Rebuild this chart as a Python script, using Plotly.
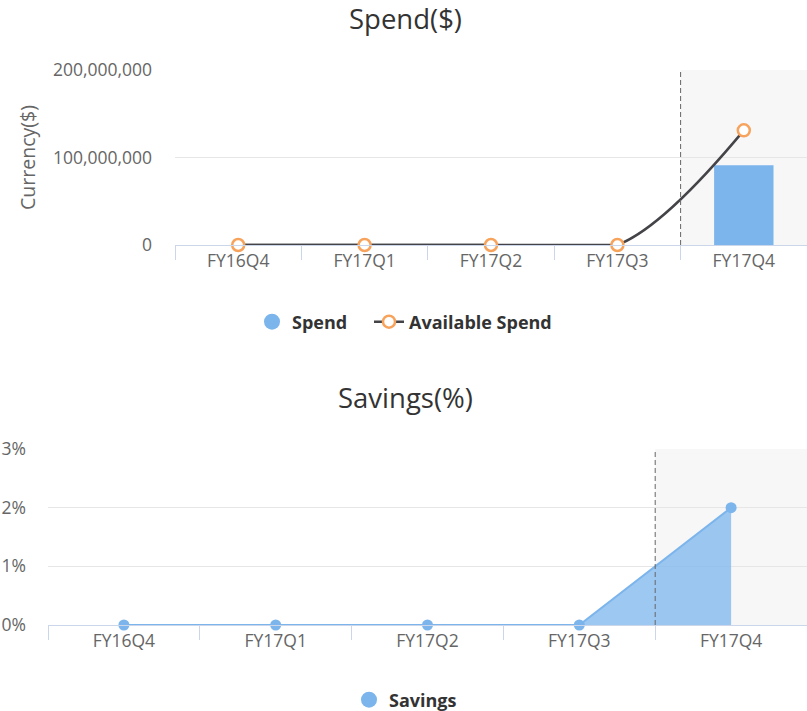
import plotly.graph_objects as go

categories = ["FY16Q4", "FY17Q1", "FY17Q2", "FY17Q3", "FY17Q4"]
spend = [None, None, None, None, 91_000_000]
available_spend = [0, 0, 0, 0, 131_000_000]
savings_pct = [0, 0, 0, 0, 2]
spend_ticks = [0, 100_000_000, 200_000_000]
savings_ticks = [0, 1, 2, 3]
savings_tick_labels = ["0%", "1%", "2%", "3%"]

W, H = 807, 711
FONT = "Open Sans, Noto Sans, sans-serif"
BLUE = "#7cb5ec"
ORANGE = "#f7a35c"
DARK = "#434348"
AXIS = "#ccd6eb"
GRID = "#e6e6e6"
LABEL = "#666666"
TICKSIZE = 17.5


def fy(px):
    return 1 - px / H


fig = go.Figure()

# --- top chart: Spend ---
fig.add_trace(go.Bar(
    x=categories, y=spend, name="Spend", marker=dict(color=BLUE, line=dict(width=0)),
    width=0.47, showlegend=False, xaxis="x", yaxis="y"))
fig.add_trace(go.Scatter(
    x=[None], y=[None], name="Spend", mode="markers",
    marker=dict(symbol="circle", size=18, color=BLUE), legend="legend",
    xaxis="x", yaxis="y"))
# flat stretch of the available-spend line (the spline undershoot there is clipped)
fig.add_trace(go.Scatter(
    x=categories[:4], y=available_spend[:4], mode="lines",
    line=dict(color=DARK, width=2.5), showlegend=False, hoverinfo="skip",
    xaxis="x", yaxis="y"))
fig.add_trace(go.Scatter(
    x=categories, y=available_spend, name="Available Spend", mode="lines+markers",
    line=dict(color=DARK, width=2.5, shape="spline", smoothing=1.0),
    marker=dict(symbol="circle", size=12, color="white", line=dict(color=ORANGE, width=2.5)),
    cliponaxis=False, legend="legend3", xaxis="x", yaxis="y"))

# --- bottom chart: Savings ---
fig.add_trace(go.Scatter(
    x=categories, y=savings_pct, name="Savings", mode="lines+markers",
    line=dict(color=BLUE, width=2), fill="tozeroy", fillcolor="rgba(124,181,236,0.75)",
    marker=dict(symbol="circle", size=11, color=BLUE),
    cliponaxis=False, showlegend=False, xaxis="x2", yaxis="y2"))
fig.add_trace(go.Scatter(
    x=[None], y=[None], name="Savings", mode="markers",
    marker=dict(symbol="circle", size=18, color=BLUE), legend="legend2",
    xaxis="x2", yaxis="y2"))

xcommon = dict(
    type="category", range=[-0.5, 4.5], showgrid=False, showline=True, linecolor=AXIS,
    linewidth=1, ticks="outside", tickson="boundaries", ticklen=14, tickcolor=AXIS,
    tickfont=dict(family=FONT, size=TICKSIZE, color=LABEL), fixedrange=True,
    zeroline=False, automargin=False)

legend_font = dict(family=FONT, size=18, color="#333333", weight="bold")
legend_common = dict(orientation="h", xanchor="left", yanchor="middle",
                     font=legend_font, itemsizing="trace", bgcolor="rgba(0,0,0,0)")

fig.update_layout(
    width=W, height=H, margin=dict(l=0, r=0, t=0, b=0, autoexpand=False),
    paper_bgcolor="white", plot_bgcolor="white",
    font=dict(family=FONT, color="#333333"),
    xaxis=dict(domain=[175 / W, 1], anchor="y", **xcommon),
    yaxis=dict(domain=[fy(245), fy(70)], anchor="x", range=[0, 200_000_000],
               tickmode="array", tickvals=spend_ticks, tickformat=",d",
               showgrid=True, gridcolor=GRID, zeroline=False, showline=False, ticks="",
               ticklabelstandoff=22, automargin=False,
               tickfont=dict(family=FONT, size=TICKSIZE, color=LABEL),
               title=dict(text="Currency($)", standoff=12,
                          font=dict(family=FONT, size=19.5, color=LABEL))),
    xaxis2=dict(domain=[48 / W, 1], anchor="y2", **xcommon),
    yaxis2=dict(domain=[fy(625), fy(449)], anchor="x2", range=[0, 3],
                tickmode="array", tickvals=savings_ticks, ticktext=savings_tick_labels,
                showgrid=True, gridcolor=GRID, zeroline=False, showline=False, ticks="",
                ticklabelstandoff=21, automargin=False,
                tickfont=dict(family=FONT, size=TICKSIZE, color=LABEL)),
    legend=dict(x=252 / W, y=fy(322), **legend_common),
    legend3=dict(x=369 / W, y=fy(322), **legend_common),
    legend2=dict(x=349 / W, y=fy(700), **legend_common),
    annotations=[
        dict(text="Spend($)", xref="paper", yref="paper", x=0.503, y=fy(19),
             xanchor="center", yanchor="middle", showarrow=False,
             font=dict(family=FONT, size=27.5, color="#333333")),
        dict(text="Savings(%)", xref="paper", yref="paper", x=0.503, y=fy(397),
             xanchor="center", yanchor="middle", showarrow=False,
             font=dict(family=FONT, size=27.5, color="#333333")),
    ],
    shapes=[
        dict(type="rect", xref="x", yref="y domain", x0=3.5, x1=4.5, y0=0, y1=1,
             fillcolor="#f7f7f7", line=dict(width=0), layer="below"),
        dict(type="line", xref="x", yref="y domain", x0=3.5, x1=3.5, y0=0, y1=1,
             line=dict(color="#666666", width=1, dash="5px,3px"), layer="above"),
        dict(type="rect", xref="x2", yref="y2 domain", x0=3.5, x1=4.5, y0=0, y1=1,
             fillcolor="#f7f7f7", line=dict(width=0), layer="below"),
        dict(type="line", xref="x2", yref="y2 domain", x0=3.5, x1=3.5, y0=0, y1=1,
             line=dict(color="#666666", width=1, dash="5px,3px"), layer="above"),
    ],
)

fig.write_html(
    "out.html",
    config={"displayModeBar": False, "responsive": False},
    post_script="document.body.style.margin='0px';",
)
